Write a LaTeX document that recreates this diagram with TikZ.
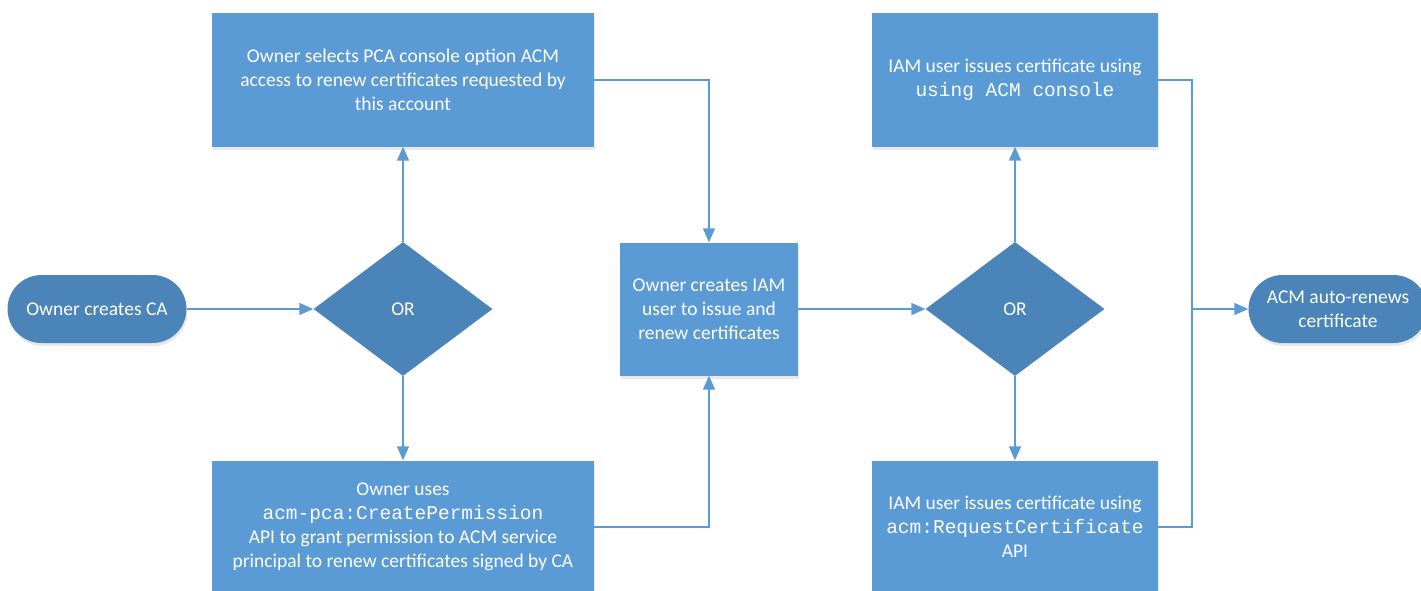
\documentclass[tikz,border=0pt]{standalone}
\usepackage{fontspec}
\setmainfont{Carlito}
\setmonofont{Liberation Mono}
\usetikzlibrary{shapes.geometric,arrows.meta,shadows}

\definecolor{boxblue}{HTML}{5B9BD5}
\definecolor{darkblue}{HTML}{4A84B8}

\tikzset{
  stepbox/.style={rectangle,fill=boxblue,text=white,align=center,inner sep=0pt,
    drop shadow={opacity=0.18,shadow xshift=1pt,shadow yshift=-3pt}},
  decision/.style={diamond,fill=darkblue,text=white,inner sep=0pt,
    minimum width=179pt,minimum height=134pt},
  terminal/.style={rectangle,rounded corners=34pt,fill=darkblue,text=white,align=center,
    minimum width=179pt,minimum height=68pt,inner sep=0pt,
    drop shadow={opacity=0.18,shadow xshift=1pt,shadow yshift=-3pt}},
  flow/.style={draw=boxblue,line width=1.6pt,-{Triangle[length=14pt,width=12pt]}},
  link/.style={draw=boxblue,line width=1.6pt}
}

\newcommand{\apiname}[1]{{\fontsize{19.5}{24}\selectfont\ttfamily #1}}

\begin{document}
\begin{tikzpicture}[x=1pt,y=-1pt,font=\fontsize{19.5}{24}\selectfont]

\useasboundingbox (0,0) rectangle (1421,591);

\node[terminal] (start) at (97,309) {Owner creates CA};
\node[decision] (or1) at (403,309) {OR};

\node[stepbox,minimum width=382pt,minimum height=133pt] (select) at (403,80)
  {Owner selects PCA console option ACM\\access to renew certificates requested by\\this account};
\node[stepbox,minimum width=382pt,minimum height=133pt] (permit) at (403,527)
  {Owner uses\\\apiname{acm-pca:CreatePermission}\\API to grant permission to ACM service\\principal to renew certificates signed by CA};

\node[stepbox,minimum width=178pt,minimum height=133pt] (iamuser) at (709,309)
  {Owner creates IAM\\user to issue and\\renew certificates};

\node[decision] (or2) at (1015,309) {OR};

\node[stepbox,minimum width=286pt,minimum height=133pt] (console) at (1015,80)
  {IAM user issues certificate using\\\apiname{using ACM console}};
\node[stepbox,minimum width=286pt,minimum height=133pt] (request) at (1015,527)
  {IAM user issues certificate using\\\apiname{acm:RequestCertificate}\\API};

\node[terminal] (renew) at (1338,309) {ACM auto-renews\\certificate};

\coordinate (join) at (1192,309);

\draw[flow] (start) -- (or1);
\draw[flow] (or1) -- (select);
\draw[flow] (or1) -- (permit);
\draw[flow] (select.east) -| (iamuser.north);
\draw[flow] (permit.east) -| (iamuser.south);
\draw[flow] (iamuser) -- (or2);
\draw[flow] (or2) -- (console);
\draw[flow] (or2) -- (request);
\draw[link] (console.east) -| (join);
\draw[link] (request.east) -| (join);
\draw[flow] (join) -- (renew);

\end{tikzpicture}
\end{document}
